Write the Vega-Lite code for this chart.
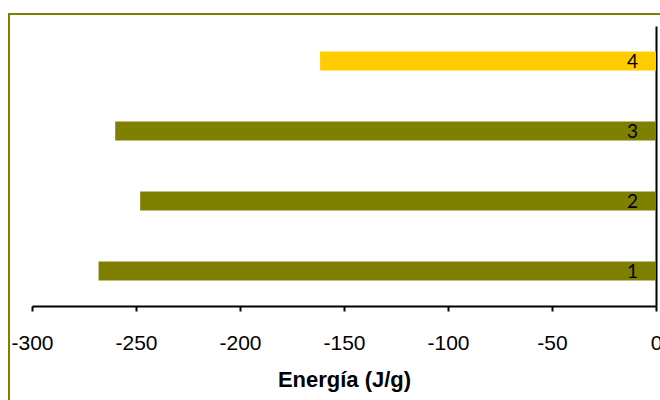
{
  "$schema": "https://vega.github.io/schema/vega-lite/v6.json",
  "width": 624,
  "height": 280,
  "autosize": {"type": "none"},
  "padding": {"left": 32, "top": 26, "right": 4, "bottom": 94},
  "background": "white",
  "config": {"view": {"stroke": null}},
  "data": {
    "values": [
      {"serie": "1", "energia": -268},
      {"serie": "2", "energia": -248},
      {"serie": "3", "energia": -260},
      {"serie": "4", "energia": -161.5}
    ]
  },
  "layer": [
    {
      "data": {"values": [{}]},
      "mark": {
        "type": "rect",
        "x": -23, "y": -12, "x2": 700, "y2": 420,
        "fill": null, "stroke": "#808000", "strokeWidth": 2, "clip": false
      },
      "encoding": {}
    },
    {
      "mark": {"type": "bar", "size": 19},
      "encoding": {
        "y": {
          "field": "serie", "type": "nominal",
          "sort": ["4", "3", "2", "1"],
          "scale": {"paddingInner": 0, "paddingOuter": 0},
          "axis": {
            "orient": "right", "title": null, "labels": false, "ticks": false,
            "grid": false, "domainColor": "black", "domainWidth": 2
          }
        },
        "x": {
          "field": "energia", "type": "quantitative",
          "scale": {"domain": [-300, 0], "nice": false},
          "axis": {
            "title": "Energía (J/g)",
            "values": [-300, -250, -200, -150, -100, -50, 0],
            "labelExpr": "'' + datum.value",
            "grid": false,
            "domainColor": "black", "domainWidth": 2,
            "tickColor": "black", "tickWidth": 2, "tickSize": 5,
            "labelFont": "Liberation Sans", "labelFontSize": 21, "labelColor": "black",
            "labelPadding": 21, "labelFlush": false, "labelOverlap": false,
            "titleFont": "Liberation Sans", "titleFontSize": 22, "titleFontWeight": "bold",
            "titleColor": "black", "titleBaseline": "alphabetic", "titleY": 80
          }
        },
        "color": {
          "field": "serie", "type": "nominal",
          "scale": {"domain": ["1", "2", "3", "4"], "range": ["#808000", "#808000", "#808000", "#FFCC00"]},
          "legend": null
        }
      }
    },
    {
      "mark": {"type": "text", "align": "right", "baseline": "middle", "dx": -18, "dy": 1, "font": "Lato", "fontSize": 19, "color": "black"},
      "encoding": {
        "y": {"field": "serie", "type": "nominal", "sort": ["4", "3", "2", "1"]},
        "x": {"datum": 0},
        "text": {"field": "serie"}
      }
    }
  ]
}
